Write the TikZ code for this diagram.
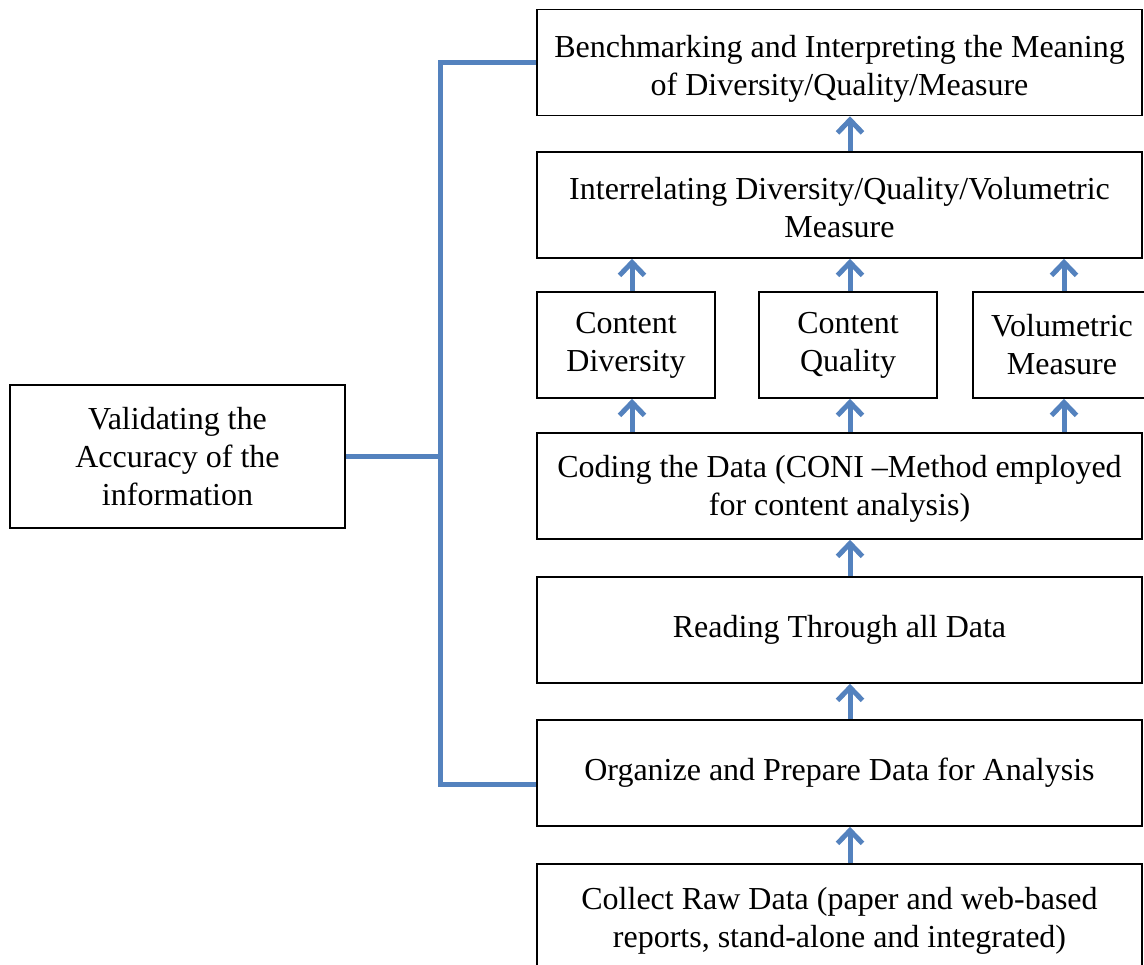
\documentclass[tikz,border=0pt]{standalone}
\usepackage{fontspec}
\setmainfont{Liberation Serif}
\usetikzlibrary{arrows.meta}
\definecolor{flowblue}{RGB}{84,130,190}

\tikzset{
  stage/.style={draw, line width=0.8pt, align=center, inner sep=0pt,
    minimum width=302.5pt, minimum height=53pt, font=\fontsize{16}{19}\selectfont},
  substage/.style={stage, minimum width=89pt},
  flow/.style={flowblue, line width=2.5pt,
    -{Straight Barb[length=6.5pt,width=12.5pt,line width=2.5pt]}},
  link/.style={draw=flowblue, line width=2.5pt}
}

\begin{document}
\begin{tikzpicture}[x=0.5pt,y=-0.5pt]
  \useasboundingbox (0,0) rectangle (1144,964);

  \node[stage] (bench) at (839.5,62.5) {\rule{0pt}{17pt}Benchmarking and Interpreting the Meaning\\of Diversity/Quality/Measure};
  \node[stage] (inter) at (839.5,205) {\rule{0pt}{14pt}Interrelating Diversity/Quality/Volumetric\\Measure};
  \node[substage] (div) at (626,345) {Content\\Diversity};
  \node[substage] (qual) at (848,345) {Content\\Quality};
  \node[substage] (vol) at (1062,345) {Volumetric\\Measure};
  \node[stage] (code) at (839.5,486) {\rule{0pt}{14pt}Coding the Data (CONI --Method employed\\for content analysis)};
  \node[stage] (read) at (839.5,630) {Reading Through all Data};
  \node[stage] (org) at (839.5,773) {Organize and Prepare Data for Analysis};
  \node[stage] (coll) at (839.5,917) {\rule{0pt}{15pt}Collect Raw Data (paper and web-based\\reports, stand-alone and integrated)};
  \node[stage, minimum width=167.5pt, minimum height=71.5pt] (valid) at (177.5,456.5) {Validating the\\Accuracy of the\\information};

  % arrow columns
  \coordinate (left) at (632,0);
  \coordinate (mid) at (850,0);
  \coordinate (right) at (1064,0);

  \path[flow]
    (coll.north -| mid) edge (org.south -| mid)
    (org.north -| mid) edge (read.south -| mid)
    (read.north -| mid) edge (code.south -| mid)
    (code.north -| left) edge (div.south -| left)
    (code.north -| mid) edge (qual.south -| mid)
    (code.north -| right) edge (vol.south -| right)
    (div.north -| left) edge (inter.south -| left)
    (qual.north -| mid) edge (inter.south -| mid)
    (vol.north -| right) edge (inter.south -| right)
    (inter.north -| mid) edge (bench.south -| mid);

  % bracket to the validation box
  \coordinate (spine) at (440,455);
  \draw[link] (bench.west) -| (spine) |- ([yshift=-5.5pt]org.west);
  \draw[link] (valid.east) -- (valid.east -| spine);
\end{tikzpicture}
\end{document}
